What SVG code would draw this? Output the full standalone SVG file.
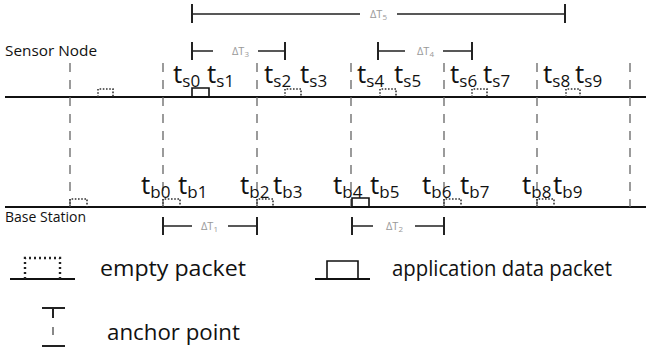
<svg xmlns="http://www.w3.org/2000/svg" width="646" height="356" viewBox="0 0 646 356">
<style>
.tl{stroke:#111;stroke-width:2;fill:none}
.anc{stroke:#666;stroke-width:1.3;stroke-dasharray:9 8;fill:none}
.emp{stroke:#333;stroke-width:1.6;stroke-dasharray:1.6 1.6;fill:none}
.dat{stroke:#111;stroke-width:1.6;fill:none}
.dim{stroke:#222;stroke-width:1.4;fill:none}
.tk{stroke:#222;stroke-width:2;fill:none}
.dl{font-family:"Open Sans","DejaVu Sans",sans-serif;font-size:11px;fill:#999}
.tt{font-family:"Open Sans","DejaVu Sans",sans-serif;font-size:26px;fill:#111}
.sb{font-size:17px}
.lab{font-family:"Open Sans","DejaVu Sans",sans-serif;font-size:15px;fill:#111}
.leg{font-family:"Open Sans","DejaVu Sans",sans-serif;font-size:22px;fill:#111}
</style>
<rect width="646" height="356" fill="#fff"/>

<g id="timelines">
<line class="tl" x1="5" y1="97" x2="646" y2="97"/>
<line class="tl" x1="5" y1="207" x2="646" y2="207"/>
</g>

<g id="anchors">
<line class="anc" x1="70" y1="63" x2="70" y2="207"/>
<line class="anc" x1="163" y1="63" x2="163" y2="207"/>
<line class="anc" x1="257" y1="63" x2="257" y2="207"/>
<line class="anc" x1="351" y1="63" x2="351" y2="207"/>
<line class="anc" x1="444" y1="63" x2="444" y2="207"/>
<line class="anc" x1="537" y1="63" x2="537" y2="207"/>
<line class="anc" x1="630" y1="63" x2="630" y2="207"/>
</g>

<g id="sensor-packets">
<path class="emp" d="M98,97V89H113V97"/>
<path class="dat" d="M192,97V88H209V97"/>
<path class="emp" d="M285,97V89H301V97"/>
<path class="emp" d="M380,97V89H396V97"/>
<path class="emp" d="M472,97V89H487V97"/>
<path class="emp" d="M566,97V89H580V97"/>
</g>

<g id="base-packets">
<path class="emp" d="M70,207V199H87V207"/>
<path class="emp" d="M163,207V199H180V207"/>
<path class="emp" d="M257,207V199H273V207"/>
<path class="dat" d="M352,207V198H369V207"/>
<path class="emp" d="M444,207V199H461V207"/>
<path class="emp" d="M537,207V199H554V207"/>
</g>

<g id="sensor-labels" class="tt">
<text x="173" y="83">t<tspan class="sb" dy="4">s0</tspan></text>
<text x="207" y="83">t<tspan class="sb" dy="4">s1</tspan></text>
<text x="264" y="83">t<tspan class="sb" dy="4">s2</tspan></text>
<text x="300" y="83">t<tspan class="sb" dy="4">s3</tspan></text>
<text x="357" y="83">t<tspan class="sb" dy="4">s4</tspan></text>
<text x="394" y="83">t<tspan class="sb" dy="4">s5</tspan></text>
<text x="450" y="83">t<tspan class="sb" dy="4">s6</tspan></text>
<text x="483" y="83">t<tspan class="sb" dy="4">s7</tspan></text>
<text x="543" y="83">t<tspan class="sb" dy="4">s8</tspan></text>
<text x="575" y="83">t<tspan class="sb" dy="4">s9</tspan></text>
</g>

<g id="base-labels" class="tt">
<text x="141" y="194">t<tspan class="sb" dy="4">b0</tspan></text>
<text x="178" y="194">t<tspan class="sb" dy="4">b1</tspan></text>
<text x="240" y="194">t<tspan class="sb" dy="4">b2</tspan></text>
<text x="273" y="194">t<tspan class="sb" dy="4">b3</tspan></text>
<text x="333" y="194">t<tspan class="sb" dy="4">b4</tspan></text>
<text x="370" y="194">t<tspan class="sb" dy="4">b5</tspan></text>
<text x="422" y="194">t<tspan class="sb" dy="4">b6</tspan></text>
<text x="460" y="194">t<tspan class="sb" dy="4">b7</tspan></text>
<text x="522" y="194">t<tspan class="sb" dy="4">b8</tspan></text>
<text x="553" y="194">t<tspan class="sb" dy="4">b9</tspan></text>
</g>

<g id="node-names" class="lab">
<text x="5" y="56" textLength="92" lengthAdjust="spacingAndGlyphs">Sensor Node</text>
<text x="5" y="222" textLength="81" lengthAdjust="spacingAndGlyphs">Base Station</text>
</g>

<g id="dT5">
<path class="tk" d="M192,4V23M565,4V23"/>
<path class="dim" d="M192,14H360M397,14H565"/>
<text class="dl" x="370" y="18">ΔT<tspan font-size="8" dy="2">5</tspan></text>
</g>
<g id="dT3">
<path class="tk" d="M192,42V60M285,42V60"/>
<path class="dim" d="M192,51H213M258,51H285"/>
<text class="dl" x="232" y="55">ΔT<tspan font-size="8" dy="2">3</tspan></text>
</g>
<g id="dT4">
<path class="tk" d="M378,42V60M472,42V60"/>
<path class="dim" d="M378,51H405M443,51H472"/>
<text class="dl" x="417" y="55">ΔT<tspan font-size="8" dy="2">4</tspan></text>
</g>
<g id="dT1">
<path class="tk" d="M163,217V235M257,217V235"/>
<path class="dim" d="M163,226H192M228,226H257"/>
<text class="dl" x="201" y="230">ΔT<tspan font-size="8" dy="2">1</tspan></text>
</g>
<g id="dT2">
<path class="tk" d="M352,217V235M444,217V235"/>
<path class="dim" d="M352,226H373M415,226H444"/>
<text class="dl" x="386" y="230">ΔT<tspan font-size="8" dy="2">2</tspan></text>
</g>

<g id="legend-empty">
<line class="tl" x1="10" y1="279" x2="75" y2="279"/>
<path stroke="#222" stroke-width="2.4" stroke-dasharray="2 3" fill="none" d="M25,279V258H60V279"/>
<text class="leg" x="100" y="276" textLength="146" lengthAdjust="spacingAndGlyphs">empty packet</text>
</g>
<g id="legend-data">
<line class="tl" x1="315" y1="279" x2="370" y2="279"/>
<path class="dat" stroke-width="2.2" d="M327,279V261H358V279"/>
<text class="leg" x="392" y="276" textLength="220" lengthAdjust="spacingAndGlyphs">application data packet</text>
</g>
<g id="legend-anchor">
<path class="tk" d="M42,308H65M53,308V318"/>
<line stroke="#888" stroke-width="2" x1="53" y1="327" x2="53" y2="335"/>
<line class="tk" x1="42" y1="346" x2="65" y2="346"/>
<text class="leg" x="107" y="340" textLength="133" lengthAdjust="spacingAndGlyphs">anchor point</text>
</g>
</svg>
